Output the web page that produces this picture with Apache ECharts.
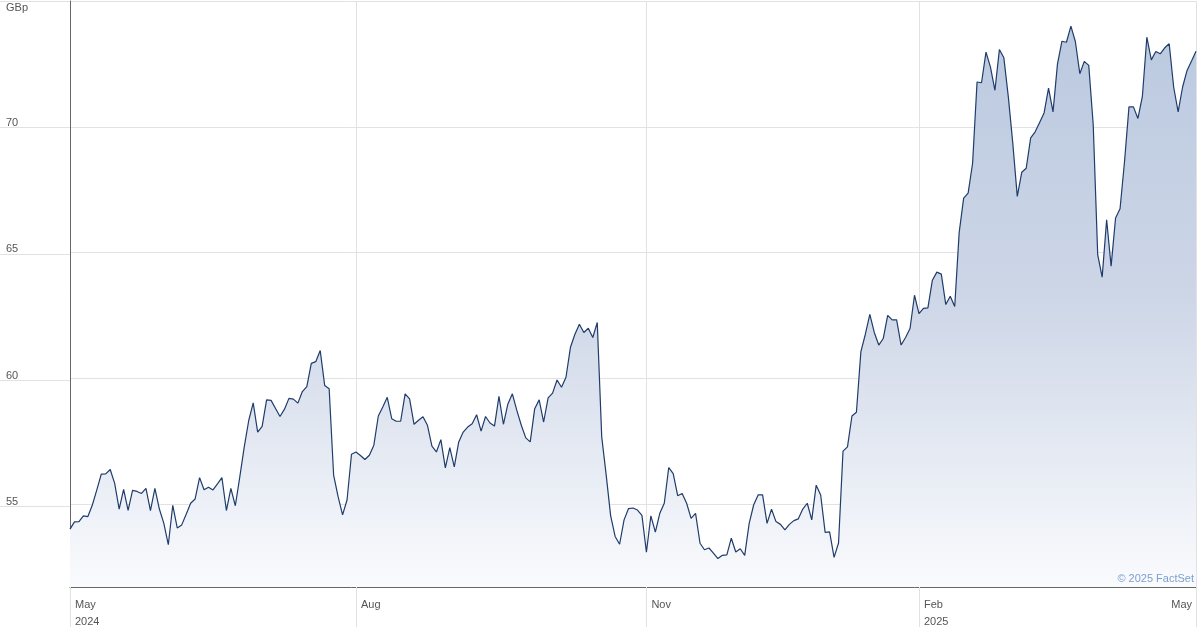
<!DOCTYPE html>
<html>
<head>
<meta charset="utf-8">
<script src="https://cdn.jsdelivr.net/npm/echarts@6/dist/echarts.min.js"></script>
<style>
html,body{margin:0;padding:0;background:#fff;}
#chart{width:1200px;height:630px;}
</style>
</head>
<body>
<div id="chart"></div>
<script>
// Daily closing prices (GBp), May 2024 – May 2025
const prices = [
54.0,54.29,54.3,54.53,54.5,54.96,55.56,56.19,56.2,56.37,
55.82,54.8,55.58,54.75,55.54,55.5,55.42,55.62,54.74,55.62,
54.8,54.23,53.38,54.95,54.05,54.17,54.59,55.03,55.2,56.05,
55.57,55.67,55.56,55.8,56.05,54.74,55.62,54.93,56.08,57.27,
58.32,59.02,57.86,58.09,59.14,59.12,58.8,58.48,58.77,59.2,
59.17,59.01,59.47,59.67,60.59,60.66,61.1,59.71,59.58,56.15,
55.29,54.57,55.16,56.98,57.07,56.93,56.77,56.94,57.34,58.5,
58.86,59.24,58.39,58.29,58.29,59.38,59.18,58.17,58.33,58.47,
58.13,57.3,57.07,57.56,56.44,57.24,56.48,57.47,57.86,58.06,
58.19,58.55,57.9,58.48,58.22,58.1,59.28,58.17,58.98,59.38,
58.72,58.13,57.63,57.47,58.79,59.14,58.26,59.22,59.41,59.93,
59.64,60.04,61.23,61.75,62.15,61.82,61.99,61.62,62.22,57.67,
56.15,54.53,53.71,53.4,54.37,54.82,54.84,54.76,54.55,53.08,
54.53,53.88,54.63,55.03,56.45,56.21,55.33,55.42,55.03,54.43,
54.63,53.44,53.18,53.25,53.05,52.83,52.96,52.98,53.64,53.09,
53.22,52.96,54.23,54.96,55.36,55.36,54.23,54.79,54.3,54.19,
53.97,54.19,54.34,54.41,54.8,55.03,54.37,55.75,55.36,53.87,
53.89,52.88,53.45,57.1,57.27,58.5,58.65,61.06,61.75,62.54,
61.82,61.32,61.58,62.5,62.32,62.32,61.32,61.62,61.98,63.3,
62.57,62.78,62.8,63.9,64.22,64.14,62.93,63.26,62.85,65.8,
67.16,67.36,68.55,71.78,71.75,72.97,72.37,71.45,73.07,72.74,
71.19,69.34,67.23,68.19,68.35,69.56,69.8,70.17,70.55,71.54,
70.59,72.5,73.4,73.36,74.0,73.39,72.11,72.6,72.44,70.07,
64.92,64.02,66.3,64.46,66.37,66.74,68.61,70.79,70.79,70.33,
71.21,73.56,72.66,72.99,72.9,73.14,73.3,71.58,70.59,71.58,
72.24,72.61,73.0
];
// Trading-day index categories
const categories = prices.map((_, i) => String(i));
// X tick labels at trading-day indices
const tickIndex = [0, 64, 129, 190, 252];
const tickText  = ['May\n2024', 'Aug', 'Nov', 'Feb\n2025', 'May'];
// Y axis range
const yMin = 51.7, yMax = 75;

const isTick = (i) => tickIndex.indexOf(i) >= 0;
const chart = echarts.init(document.getElementById('chart'), null, {renderer: 'canvas'});
const font = '"Liberation Sans", Arial, sans-serif';
const gridColor = '#e2e2e2';

chart.setOption({
  animation: false,
  backgroundColor: '#ffffff',
  textStyle: {fontFamily: font},
  grid: [
    {left: 70, right: 4, top: 1, bottom: 40, containLabel: false},
    {left: 0, width: 70, top: 1, bottom: 40, containLabel: false}
  ],
  xAxis: [
    {
      type: 'category', gridIndex: 0, data: categories, boundaryGap: false,
      axisLine: {show: true, lineStyle: {color: '#666', width: 1}},
      axisTick: {show: true, interval: (i) => isTick(i), length: 40, lineStyle: {color: gridColor}},
      splitLine: {show: true, interval: (i) => isTick(i), lineStyle: {color: gridColor}},
      axisLabel: {
        show: true, interval: (i) => isTick(i),
        formatter: (v, i) => { const k = tickIndex.indexOf(i); return k >= 0 ? tickText[k] : ''; },
        color: '#555', fontSize: 11, fontFamily: font, lineHeight: 17,
        align: 'left', alignMaxLabel: 'right', margin: 9, padding: [0, 4, 0, 5],
        showMinLabel: true, showMaxLabel: true, hideOverlap: false
      }
    },
    {type: 'value', gridIndex: 1, min: 0, max: 1, show: false}
  ],
  yAxis: [
    {
      type: 'value', gridIndex: 0, min: yMin, max: yMax, splitNumber: 5,
      axisLine: {show: true, lineStyle: {color: '#666', width: 1}},
      axisTick: {show: false},
      axisLabel: {show: false},
      splitLine: {show: true, showMinLine: false, lineStyle: {color: gridColor}}
    },
    {
      type: 'value', gridIndex: 1, min: yMin, max: yMax, splitNumber: 5,
      axisLine: {show: false}, axisTick: {show: false},
      splitLine: {show: true, showMinLine: false, lineStyle: {color: gridColor}},
      axisLabel: {
        show: true, inside: true, align: 'left', verticalAlign: 'bottom', margin: 6,
        color: '#555', fontSize: 11, fontFamily: font, padding: [0, 0, -1, 0],
        showMinLabel: false, showMaxLabel: false
      }
    }
  ],
  graphic: [
    {type: 'text', left: 6, top: 2, z: 100, style: {text: 'GBp', fill: '#555', font: '11px ' + font}},
    {type: 'text', right: 6, top: 573, z: 100, style: {text: '\u00a9 2025 FactSet', fill: '#7b9fd0', font: '11px ' + font}}
  ],
  series: [{
    type: 'line', xAxisIndex: 0, yAxisIndex: 0, data: prices,
    showSymbol: false, symbol: 'none',
    lineStyle: {color: '#1f3c6b', width: 1.2},
    areaStyle: {
      opacity: 1,
      color: {
        type: 'linear', x: 0, y: 1, x2: 0, y2: 590, global: true,
        colorStops: [
          {offset: 0, color: '#b9c8df'},
          {offset: 0.5, color: '#cdd6e7'},
          {offset: 1, color: '#fafbfd'}
        ]
      },
      origin: 'start'
    },
    z: 3
  }]
});
</script>
</body>
</html>
